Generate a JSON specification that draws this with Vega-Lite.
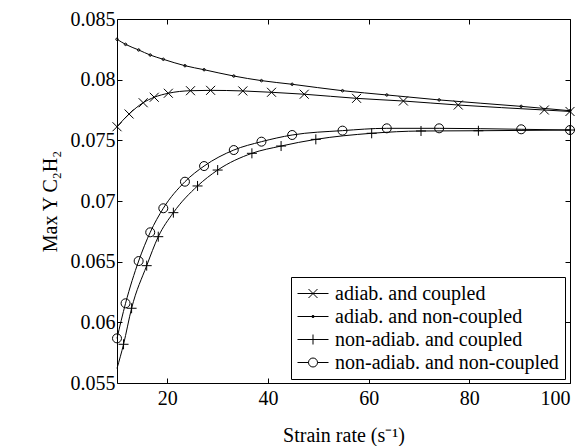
{
  "$schema": "https://vega.github.io/schema/vega-lite/v6.json",
  "width": 453,
  "height": 364,
  "autosize": {"type": "none"},
  "padding": {"left": 117, "top": 19, "right": 17, "bottom": 63},
  "background": "white",
  "datasets": {
    "pts": [
      {"s": "adiab. and coupled", "x": 10, "y": 0.07612},
      {"s": "adiab. and coupled", "x": 12.4, "y": 0.07717},
      {"s": "adiab. and coupled", "x": 15.2, "y": 0.0781},
      {"s": "adiab. and coupled", "x": 17.4, "y": 0.07855},
      {"s": "adiab. and coupled", "x": 20.2, "y": 0.07888},
      {"s": "adiab. and coupled", "x": 24.6, "y": 0.07909},
      {"s": "adiab. and coupled", "x": 28.6, "y": 0.07912},
      {"s": "adiab. and coupled", "x": 35, "y": 0.07907},
      {"s": "adiab. and coupled", "x": 40.7, "y": 0.07896},
      {"s": "adiab. and coupled", "x": 47.2, "y": 0.0788},
      {"s": "adiab. and coupled", "x": 57.6, "y": 0.07846},
      {"s": "adiab. and coupled", "x": 66.9, "y": 0.07824},
      {"s": "adiab. and coupled", "x": 77.8, "y": 0.07791},
      {"s": "adiab. and coupled", "x": 94.9, "y": 0.0775},
      {"s": "adiab. and coupled", "x": 100, "y": 0.07738},
      {"s": "adiab. and non-coupled", "x": 10, "y": 0.08333},
      {"s": "adiab. and non-coupled", "x": 11.7, "y": 0.08291},
      {"s": "adiab. and non-coupled", "x": 14.3, "y": 0.08245},
      {"s": "adiab. and non-coupled", "x": 16.6, "y": 0.08203},
      {"s": "adiab. and non-coupled", "x": 19.2, "y": 0.08168},
      {"s": "adiab. and non-coupled", "x": 23.5, "y": 0.08115},
      {"s": "adiab. and non-coupled", "x": 27.3, "y": 0.08082},
      {"s": "adiab. and non-coupled", "x": 33.2, "y": 0.0803},
      {"s": "adiab. and non-coupled", "x": 38.7, "y": 0.07992},
      {"s": "adiab. and non-coupled", "x": 44.8, "y": 0.07962},
      {"s": "adiab. and non-coupled", "x": 54.8, "y": 0.07909},
      {"s": "adiab. and non-coupled", "x": 63.6, "y": 0.07874},
      {"s": "adiab. and non-coupled", "x": 74, "y": 0.07833},
      {"s": "adiab. and non-coupled", "x": 90.3, "y": 0.0778},
      {"s": "adiab. and non-coupled", "x": 100, "y": 0.07744},
      {"s": "non-adiab. and coupled", "x": 10, "y": 0.0562},
      {"s": "non-adiab. and coupled", "x": 11.3, "y": 0.05819},
      {"s": "non-adiab. and coupled", "x": 12.9, "y": 0.06116},
      {"s": "non-adiab. and coupled", "x": 15.9, "y": 0.06467},
      {"s": "non-adiab. and coupled", "x": 18.2, "y": 0.06706},
      {"s": "non-adiab. and coupled", "x": 21.2, "y": 0.06904},
      {"s": "non-adiab. and coupled", "x": 26, "y": 0.07124},
      {"s": "non-adiab. and coupled", "x": 30, "y": 0.07255},
      {"s": "non-adiab. and coupled", "x": 36.8, "y": 0.07393},
      {"s": "non-adiab. and coupled", "x": 42.6, "y": 0.07453},
      {"s": "non-adiab. and coupled", "x": 49.5, "y": 0.07508},
      {"s": "non-adiab. and coupled", "x": 60.6, "y": 0.07558},
      {"s": "non-adiab. and coupled", "x": 70.4, "y": 0.07577},
      {"s": "non-adiab. and coupled", "x": 81.8, "y": 0.07579},
      {"s": "non-adiab. and coupled", "x": 100, "y": 0.07585},
      {"s": "non-adiab. and non-coupled", "x": 10, "y": 0.05868},
      {"s": "non-adiab. and non-coupled", "x": 11.7, "y": 0.06157},
      {"s": "non-adiab. and non-coupled", "x": 14.3, "y": 0.06505},
      {"s": "non-adiab. and non-coupled", "x": 16.6, "y": 0.06742},
      {"s": "non-adiab. and non-coupled", "x": 19.2, "y": 0.0694},
      {"s": "non-adiab. and non-coupled", "x": 23.5, "y": 0.07159},
      {"s": "non-adiab. and non-coupled", "x": 27.3, "y": 0.07288},
      {"s": "non-adiab. and non-coupled", "x": 33.2, "y": 0.0742},
      {"s": "non-adiab. and non-coupled", "x": 38.7, "y": 0.07489},
      {"s": "non-adiab. and non-coupled", "x": 44.8, "y": 0.07544},
      {"s": "non-adiab. and non-coupled", "x": 54.8, "y": 0.0758},
      {"s": "non-adiab. and non-coupled", "x": 63.6, "y": 0.07599},
      {"s": "non-adiab. and non-coupled", "x": 74, "y": 0.07599},
      {"s": "non-adiab. and non-coupled", "x": 90.3, "y": 0.07591},
      {"s": "non-adiab. and non-coupled", "x": 100, "y": 0.07585}
    ]
  },
  "data": {"name": "pts"},
  "layer": [
    {
      "mark": {"type": "line", "interpolate": "monotone", "color": "black", "strokeWidth": 1},
      "encoding": {
        "x": {
          "field": "x", "type": "quantitative",
          "scale": {"domain": [10, 100], "nice": false, "zero": false},
          "axis": {"orient": "bottom", "values": [20, 40, 60, 80, 100], "title": "Strain rate (s⁻¹)", "tickSize": -5, "labelPadding": 10, "titlePadding": 17}
        },
        "y": {
          "field": "y", "type": "quantitative",
          "scale": {"domain": [0.055, 0.085], "nice": false, "zero": false},
          "axis": {"orient": "left", "values": [0.055, 0.06, 0.065, 0.07, 0.075, 0.08, 0.085], "format": ".3~f", "title": "Max Y C₂H₂", "tickSize": -5, "labelPadding": 7, "titlePadding": 10}
        },
        "detail": {"field": "s"}
      }
    },
    {
      "transform": [{"filter": "!(datum.s === 'non-adiab. and coupled' && datum.x === 10)"}],
      "mark": {"type": "point", "filled": false, "size": 100, "stroke": "black", "strokeWidth": 1, "opacity": 1},
      "encoding": {
        "x": {
          "field": "x", "type": "quantitative",
          "axis": {"orient": "top", "values": [20, 40, 60, 80, 100], "labels": false, "title": null, "tickSize": -5}
        },
        "y": {
          "field": "y", "type": "quantitative",
          "axis": {"orient": "right", "values": [0.055, 0.06, 0.065, 0.07, 0.075, 0.08, 0.085], "labels": false, "title": null, "tickSize": -5}
        },
        "shape": {
          "field": "s", "type": "nominal",
          "scale": {
            "domain": ["adiab. and coupled", "adiab. and non-coupled", "non-adiab. and coupled", "non-adiab. and non-coupled"],
            "range": [
              "M-0.9,-0.9L0.9,0.9M-0.9,0.9L0.9,-0.9",
              "M-0.25,0A0.25,0.25 0 1,0 0.25,0A0.25,0.25 0 1,0 -0.25,0Z",
              "M-1,0H1M0,-1V1",
              "M-0.9,0A0.9,0.9 0 1,0 0.9,0A0.9,0.9 0 1,0 -0.9,0Z"
            ]
          },
          "legend": null
        }
      }
    },
    {
      "transform": [{"filter": "datum.x < 0"}],
      "mark": {"type": "point", "filled": false, "size": 400, "stroke": "black", "strokeWidth": 1, "opacity": 1},
      "encoding": {
        "x": {"field": "x", "type": "quantitative", "axis": null},
        "y": {"field": "y", "type": "quantitative", "axis": null},
        "shape": {
          "field": "s", "type": "nominal",
          "scale": {
            "domain": ["adiab. and coupled", "adiab. and non-coupled", "non-adiab. and coupled", "non-adiab. and non-coupled"],
            "range": [
              "M-1,0H2.1M0.1,-0.45L1,0.45M0.1,0.45L1,-0.45",
              "M-1,0H2.1M0.43,0A0.12,0.12 0 1,0 0.67,0A0.12,0.12 0 1,0 0.43,0Z",
              "M-1,0H2.1M0.55,-0.5V0.5",
              "M-1,0H0.1M1,0H2.1M0.1,0A0.45,0.45 0 1,0 1,0A0.45,0.45 0 1,0 0.1,0Z"
            ]
          },
          "legend": {
            "title": null,
            "orient": "none",
            "legendX": 174,
            "legendY": 258,
            "padding": 6,
            "strokeColor": "black",
            "fillColor": "white",
            "symbolSize": 400,
            "symbolStrokeWidth": 1,
            "symbolStrokeColor": "black",
            "symbolFillColor": "transparent",
            "labelFont": "Liberation Serif",
            "labelFontSize": 20,
            "labelColor": "black",
            "labelOffset": 17,
            "labelLimit": 400,
            "rowPadding": 2
          }
        }
      }
    }
  ],
  "resolve": {"axis": {"x": "independent", "y": "independent"}, "scale": {"shape": "independent"}},
  "config": {
    "view": {"stroke": null},
    "legend": {"labelFont": "Liberation Serif"},
    "axis": {
      "labelFont": "Liberation Serif",
      "labelFontSize": 20,
      "labelColor": "black",
      "titleFont": "Liberation Serif",
      "titleFontSize": 20,
      "titleFontWeight": "normal",
      "titleColor": "black",
      "domainColor": "black",
      "domainWidth": 1,
      "tickColor": "black",
      "tickWidth": 1,
      "grid": false
    }
  }
}
